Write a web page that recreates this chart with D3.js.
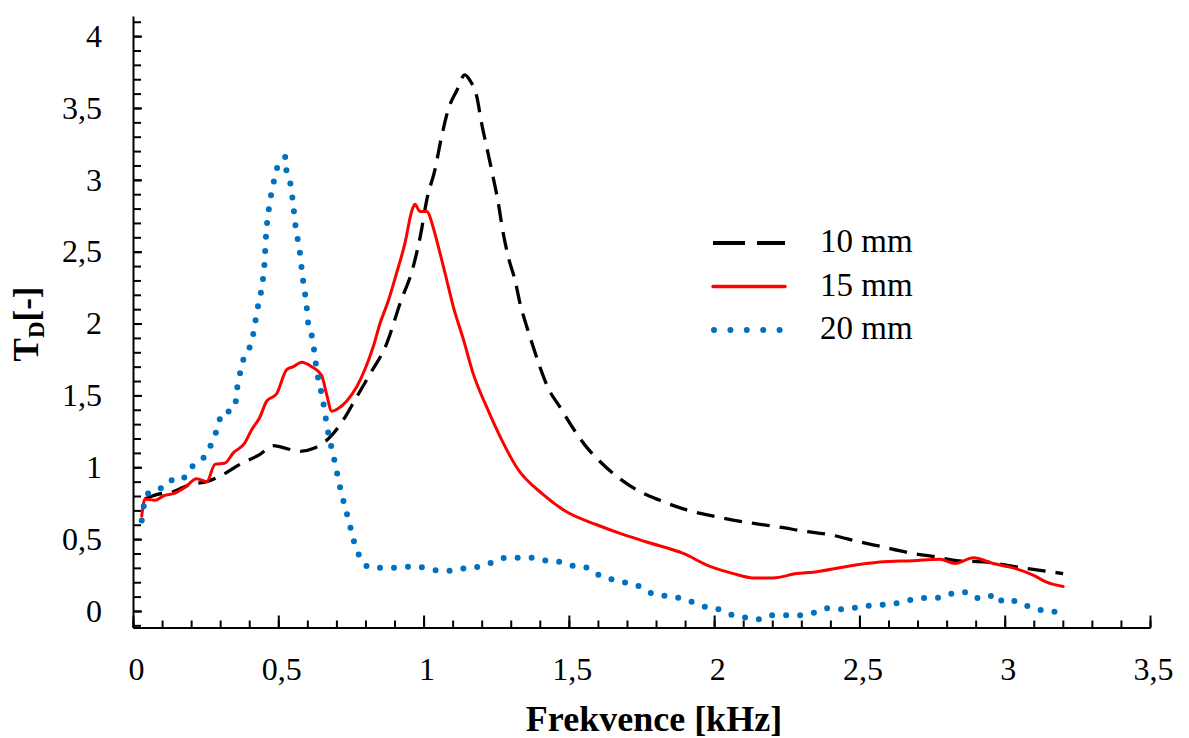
<!DOCTYPE html>
<html>
<head>
<meta charset="utf-8">
<script src="https://cdn.jsdelivr.net/npm/d3@7"></script>
<style>
  html, body { margin: 0; padding: 0; background: #fff; }
  svg { display: block; }
  text { font-family: "Liberation Serif", "Times New Roman", serif; fill: #000; }
</style>
</head>
<body>
<svg id="chart" width="1189" height="738"></svg>
<script>
// Transmission T_D versus frequency for three sample thicknesses
const seriesNames = ["10 mm", "15 mm", "20 mm"];

// frequency [kHz], T_D [-]
const freq10 = [0.041,0.081,0.139,0.196,0.254,0.311,0.368,0.437,0.483,0.529,0.575,0.620,0.678,0.724,0.770,0.816,0.873,0.919,0.965,0.990,1.011,1.039,1.062,1.085,1.114,1.142,1.160,1.183,1.200,1.217,1.234,1.257,1.274,1.292,1.315,1.332,1.355,1.377,1.400,1.429,1.469,1.515,1.561,1.607,1.676,1.745,1.813,1.894,1.997,2.100,2.238,2.295,2.400,2.502,2.571,2.685,2.754,2.834,2.938,3.029,3.098,3.201];
const td10   = [0.78,0.81,0.83,0.88,0.90,0.95,1.02,1.09,1.15,1.13,1.11,1.13,1.21,1.33,1.49,1.65,1.86,2.14,2.40,2.62,2.86,3.07,3.30,3.49,3.62,3.73,3.69,3.58,3.39,3.23,3.07,2.84,2.63,2.46,2.30,2.14,1.98,1.84,1.70,1.55,1.42,1.27,1.14,1.04,0.92,0.83,0.77,0.71,0.66,0.62,0.58,0.56,0.53,0.48,0.45,0.40,0.38,0.35,0.34,0.31,0.29,0.26];

const freq15 = [0.030,0.041,0.076,0.104,0.145,0.179,0.219,0.254,0.282,0.317,0.345,0.385,0.408,0.437,0.460,0.494,0.529,0.552,0.580,0.615,0.649,0.666,0.684,0.707,0.735,0.770,0.798,0.827,0.850,0.879,0.907,0.936,0.959,0.970,0.988,1.011,1.033,1.045,1.074,1.102,1.137,1.171,1.217,1.274,1.320,1.412,1.492,1.596,1.676,1.768,1.894,1.986,2.066,2.134,2.203,2.284,2.341,2.456,2.571,2.685,2.777,2.829,2.892,2.960,3.029,3.098,3.144,3.201];
const td15   = [0.66,0.78,0.77,0.80,0.82,0.86,0.92,0.90,1.02,1.03,1.10,1.17,1.26,1.35,1.46,1.51,1.68,1.70,1.73,1.70,1.64,1.51,1.39,1.41,1.46,1.56,1.68,1.84,2.00,2.16,2.35,2.56,2.78,2.83,2.78,2.78,2.67,2.58,2.35,2.12,1.89,1.65,1.42,1.17,1.00,0.81,0.69,0.60,0.54,0.48,0.40,0.31,0.26,0.23,0.23,0.26,0.27,0.31,0.34,0.35,0.36,0.33,0.37,0.33,0.30,0.25,0.20,0.17];

const freq20 = [0.030,0.038,0.053,0.093,0.127,0.168,0.187,0.219,0.240,0.263,0.274,0.294,0.305,0.334,0.351,0.357,0.366,0.380,0.391,0.408,0.418,0.426,0.437,0.446,0.452,0.458,0.463,0.471,0.479,0.489,0.500,0.515,0.525,0.529,0.543,0.550,0.561,0.572,0.584,0.598,0.603,0.617,0.632,0.653,0.670,0.693,0.715,0.741,0.767,0.789,0.816,0.856,0.913,0.965,1.005,1.056,1.102,1.148,1.194,1.240,1.280,1.337,1.389,1.423,1.475,1.521,1.567,1.604,1.647,1.687,1.733,1.777,1.808,1.857,1.899,1.940,1.968,2.003,2.049,2.095,2.144,2.192,2.238,2.295,2.347,2.393,2.450,2.502,2.565,2.616,2.662,2.714,2.756,2.796,2.831,2.868,2.905,2.938,2.968,2.997,3.034,3.072,3.110,3.161,3.199];
const td20   = [0.63,0.74,0.82,0.85,0.91,0.91,0.97,1.03,1.06,1.13,1.19,1.29,1.38,1.39,1.42,1.53,1.63,1.75,1.80,1.87,1.97,2.08,2.18,2.29,2.40,2.62,2.73,2.84,2.94,3.02,3.11,3.14,3.16,3.04,2.96,2.85,2.65,2.53,2.32,2.11,2.00,1.90,1.68,1.47,1.26,1.05,0.84,0.64,0.44,0.35,0.30,0.30,0.30,0.31,0.30,0.28,0.28,0.30,0.31,0.34,0.37,0.37,0.37,0.35,0.34,0.31,0.30,0.25,0.22,0.20,0.18,0.13,0.11,0.10,0.08,0.05,0.03,0.02,-0.02,-0.04,-0.06,-0.03,-0.03,-0.03,-0.01,0.02,0.01,0.03,0.04,0.05,0.07,0.09,0.09,0.10,0.13,0.13,0.09,0.09,0.12,0.06,0.07,0.04,0.01,0.00,-0.03];

// axis ranges and ticks
const xDomain = [0, 3.5];
const yDomain = [-0.115, 4.14];
const xMajorTicks = [0, 0.5, 1, 1.5, 2, 2.5, 3, 3.5];
const xMinorTicks = d3.range(0, 36).map(i => i / 10);
const yMajorTicks = [0, 0.5, 1, 1.5, 2, 2.5, 3, 3.5, 4];
const yMinorTicks = d3.range(-1, 42).map(i => i / 10);

const svg = d3.select("#chart");
svg.append("rect").attr("width", 1189).attr("height", 738).attr("fill", "#fff");

const x = d3.scaleLinear().domain(xDomain).range([133, 1150]);
const y = d3.scaleLinear().domain(yDomain).range([627.5, 16]);

const czech = d3.formatLocale({ decimal: ",", thousands: " ", grouping: [3], currency: ["", " Kč"] });
const fmt = czech.format("~g");

const axisStyle = g => {
  g.selectAll("path.domain").attr("stroke", "#000").attr("stroke-width", 2);
  g.selectAll(".tick line").attr("stroke", "#000").attr("stroke-width", 2);
  g.selectAll(".tick text").style("font-family", "'Liberation Serif', serif").style("font-size", "32px").attr("fill", "#000");
};

// x axis: minor ticks, then labelled major ticks
svg.append("g")
  .attr("transform", `translate(0,${y.range()[0]})`)
  .call(d3.axisBottom(x).tickValues(xMinorTicks).tickSize(-7).tickSizeOuter(0).tickFormat(""))
  .call(axisStyle);
svg.append("g")
  .attr("transform", `translate(0,${y.range()[0]})`)
  .call(d3.axisBottom(x).tickValues(xMajorTicks).tickSize(-12).tickSizeOuter(0).tickPadding(30).tickFormat(fmt))
  .call(axisStyle)
  .call(g => g.selectAll(".tick text").attr("dx", 3));

// y axis
svg.append("g")
  .attr("transform", `translate(${x.range()[0]},0)`)
  .call(d3.axisLeft(y).tickValues(yMinorTicks).tickSize(-8).tickSizeOuter(0).tickFormat(""))
  .call(axisStyle);
svg.append("g")
  .attr("transform", `translate(${x.range()[0]},0)`)
  .call(d3.axisLeft(y).tickValues(yMajorTicks).tickSize(-9).tickSizeOuter(0).tickPadding(31).tickFormat(fmt))
  .call(axisStyle)
  .call(g => g.selectAll("path.domain").remove());

// axis titles
svg.append("text")
  .attr("x", 654).attr("y", 731)
  .attr("text-anchor", "middle")
  .style("font-weight", "bold").style("font-size", "36px")
  .text("Frekvence [kHz]");

const yTitle = svg.append("text")
  .attr("transform", "translate(38,324) rotate(-90)")
  .attr("text-anchor", "middle")
  .style("font-weight", "bold").style("font-size", "35px");
yTitle.append("tspan").text("T");
yTitle.append("tspan").attr("dy", 6).style("font-size", "23px").text("D");
yTitle.append("tspan").attr("dy", -6).text("[-]");

// series
const toPoints = (fs, vs) => fs.map((f, i) => [f, vs[i]]);
const line = d3.line().curve(d3.curveMonotoneX).x(d => x(d[0])).y(d => y(d[1]));

const series = [
  { name: seriesNames[0], pts: toPoints(freq10, td10), color: "#000000", width: 3.3, dash: "18 10", cap: "butt" },
  { name: seriesNames[1], pts: toPoints(freq15, td15), color: "#FF0000", width: 3,   dash: null,    cap: "round" },
  { name: seriesNames[2], pts: toPoints(freq20, td20), color: "#0070C0", width: 6,   dash: "0 14",  cap: "round" }
];

svg.append("g").selectAll("path")
  .data(series).join("path")
  .attr("d", d => line(d.pts))
  .attr("fill", "none")
  .attr("stroke", d => d.color)
  .attr("stroke-width", d => d.width)
  .attr("stroke-dasharray", d => d.dash)
  .attr("stroke-linecap", d => d.cap)
  .attr("stroke-linejoin", "round");

// legend
const legendDash = ["32 12", null, "0 16.4"];
const legendWidth = [4, 3.5, 6];
const legend = svg.append("g").attr("transform", "translate(713,243)");
series.forEach((s, i) => {
  const row = legend.append("g").attr("transform", `translate(0,${i * 43.5})`);
  row.append("line")
    .attr("x1", i === 2 ? 1 : 0).attr("x2", i === 2 ? 67 : 72)
    .attr("y1", 0).attr("y2", 0)
    .attr("stroke", s.color)
    .attr("stroke-width", legendWidth[i])
    .attr("stroke-dasharray", legendDash[i])
    .attr("stroke-linecap", s.cap);
  row.append("text")
    .attr("x", 107).attr("y", 9)
    .style("font-size", "33px")
    .text(s.name);
});
</script>
</body>
</html>
